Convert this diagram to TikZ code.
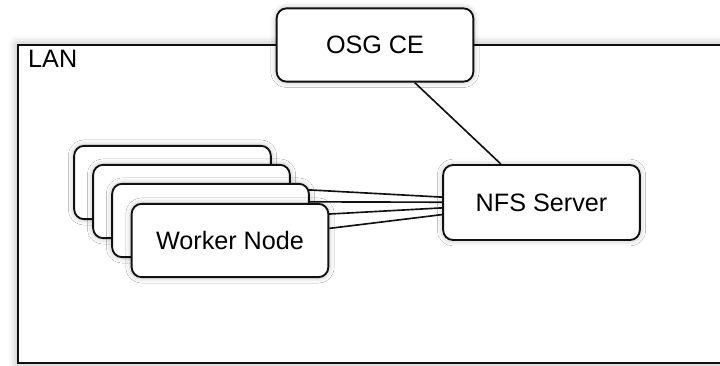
\documentclass[tikz,border=0pt]{standalone}
\usepackage{fontspec}
\setmainfont{Liberation Sans}
\usetikzlibrary{backgrounds,shadows.blur}
\definecolor{ink}{HTML}{111111}
\definecolor{paper}{HTML}{FFFFFF}
\tikzset{
  hostBox/.style={draw=ink, fill=paper, line width=1.6pt, rounded corners=8.5pt,
    minimum width=5.9cm, minimum height=2.2cm, inner sep=0pt,
    font=\fontsize{21.5}{26}\selectfont,
    blur shadow={shadow xshift=0pt, shadow yshift=0pt, shadow blur radius=5pt, shadow opacity=30}},
  lanBox/.style={draw=ink, fill=paper, line width=1.8pt,
    blur shadow={shadow xshift=0pt, shadow yshift=0pt, shadow blur radius=8pt, shadow opacity=35}},
  lanLbl/.style={anchor=north west, inner sep=0pt, font=\fontsize{21.5}{26}\selectfont},
  link/.style={draw=ink, line width=1.4pt},
}

\begin{document}
\begin{tikzpicture}[x=0.03cm, y=-0.03cm]
  \useasboundingbox (0,0) rectangle (720,366);
  \clip (0,0) rectangle (720,366);

  \node[hostBox] (osg) at (375,45) {OSG CE};
  \node[hostBox, minimum height=2.25cm] (nfs) at (541.5,202.5) {NFS Server};

  % stack of workers, back to front
  \node[hostBox] (w1) at (172.5,182.5) {};
  \node[hostBox] (w2) at (191.5,201.5) {};
  \node[hostBox] (w3) at (210.5,220.5) {};
  \node[hostBox] (w4) at (230,240.5) {Worker Node};

  \begin{pgfonlayer}{background}
    \coordinate (lanNW) at (18,45);
    \coordinate (lanSE) at (740,363);
    \draw[lanBox] (lanNW) rectangle (lanSE);
    \node[lanLbl] (lan) at (28,50) {LAN};

    \draw[link] (osg) -- (nfs);
    \foreach \w in {w1,w2,w3,w4}
      \draw[link] (\w) -- (nfs);
  \end{pgfonlayer}
\end{tikzpicture}
\end{document}
